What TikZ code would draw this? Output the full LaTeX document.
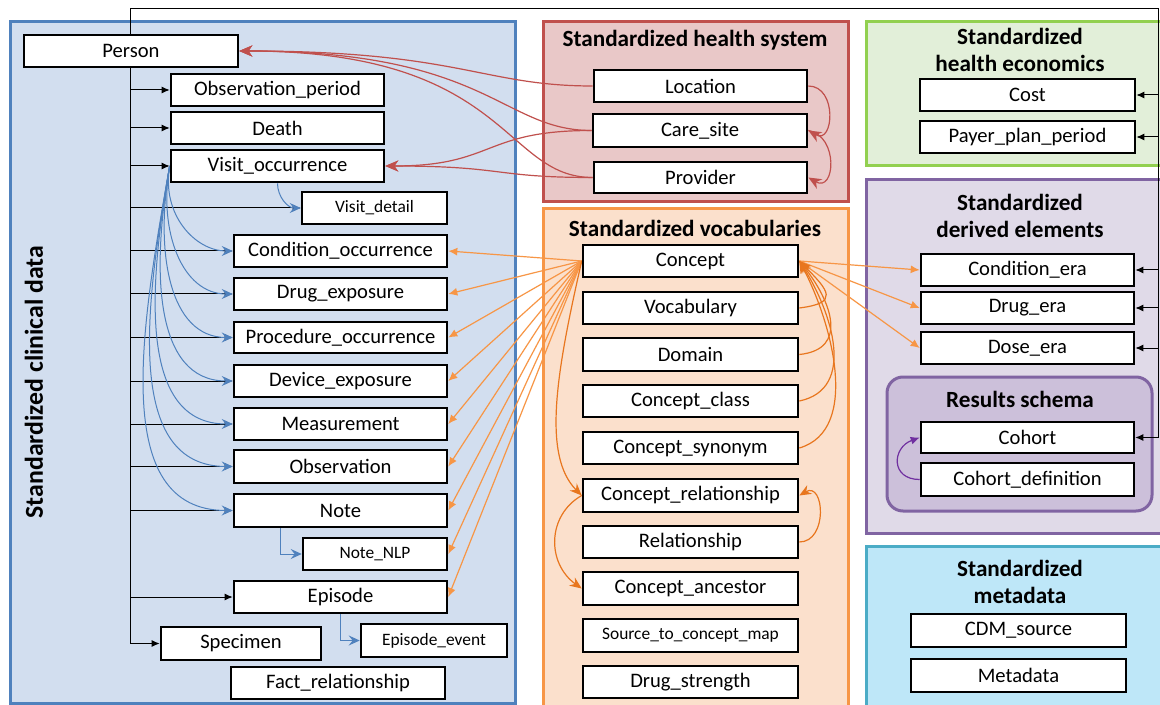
\documentclass[tikz,border=0pt]{standalone}
\usepackage{fontspec}
\setmainfont{Carlito}
\usetikzlibrary{arrows.meta,calc}
\pgfdeclarelayer{bg}\pgfdeclarelayer{conn}\pgfsetlayers{bg,conn,main}
\definecolor{cliF}{RGB}{210,222,239}
\definecolor{cliB}{RGB}{79,129,189}
\definecolor{hsF}{RGB}{233,200,200}
\definecolor{hsB}{RGB}{192,80,77}
\definecolor{vocF}{RGB}{251,224,204}
\definecolor{vocB}{RGB}{247,150,70}
\definecolor{heF}{RGB}{226,239,217}
\definecolor{heB}{RGB}{146,208,80}
\definecolor{deF}{RGB}{224,218,232}
\definecolor{deB}{RGB}{128,100,162}
\definecolor{rsF}{RGB}{204,192,218}
\definecolor{mdF}{RGB}{190,231,248}
\definecolor{mdB}{RGB}{75,172,198}
\definecolor{redC}{RGB}{192,80,77}
\definecolor{bluC}{RGB}{79,129,189}
\definecolor{orC}{RGB}{247,150,70}
\definecolor{orD}{RGB}{232,118,30}
\definecolor{purC}{RGB}{112,48,160}
\newcommand\tb[6][]{\node[tbox,#1,minimum width={(#4-#2)*0.5pt},minimum height={(#5-#3)*0.5pt}] (#6) at ({(#2+#4)/2},{(#3+#5)/2})}
\tikzset{
  tbox/.style={draw=black,line width=1.3pt,fill=white,inner sep=0pt,font=\fontsize{10.3}{12}\selectfont},
  small/.style={font=\fontsize{8.7}{10}\selectfont},
  panel/.style={line width=1.5pt},
  ttl/.style={font=\bfseries\fontsize{11.6}{13.5}\selectfont,align=center,inner sep=0pt},
  blkarr/.style={draw=black,line width=0.5pt,-{Latex[length=4pt,width=3.5pt]}},
  blk/.style={draw=black,line width=0.5pt},
  redarr/.style={draw=redC,line width=0.6pt,-{Stealth[length=6.5pt,width=5.5pt,inset=2pt]}},
  bluarr/.style={draw=bluC,line width=0.5pt,-{Stealth[length=5.5pt,width=5pt,inset=2pt]}},
  orarr/.style={draw=orC,line width=0.6pt,-{Latex[length=4.5pt,width=4pt]}},
  orcurve/.style={draw=orD,line width=0.6pt,-{Stealth[length=6pt,width=5pt,inset=2pt]}},
  purarr/.style={draw=purC,line width=0.6pt,-{Latex[length=4.5pt,width=4pt]}}
}
\begin{document}
\begin{tikzpicture}[x=0.5pt,y=-0.5pt]
\useasboundingbox (0,0) rectangle (1160,705);
\begin{pgfonlayer}{bg}
\fill[white] (0,0) rectangle (1160,705);
\begin{scope}
\clip (0,0) rectangle (1160,705);
\draw[panel,draw=cliB,fill=cliF] (10,22) rectangle (515,703);
\draw[panel,draw=hsB,fill=hsF] (543,22) rectangle (848,202);
\draw[panel,draw=vocB,fill=vocF] (543,209) rectangle (848,715);
\draw[panel,draw=heB,fill=heF] (866,22) rectangle (1175,166);
\draw[panel,draw=deB,fill=deF] (866,180) rectangle (1175,533);
\draw[panel,draw=deB,fill=rsF,rounded corners=8pt] (887,377) rectangle (1152,511);
\draw[panel,draw=mdB,fill=mdF] (866,546) rectangle (1175,715);
\end{scope}
\end{pgfonlayer}

% titles
\node[ttl,rotate=90,font=\bfseries\fontsize{12.9}{15}\selectfont] (tcli) at (34,382) {Standardized clinical data};
\node[ttl] (ths) at (695,40) {Standardized health system};
\node[ttl] (tvoc) at (695,228) {Standardized vocabularies};
\node[ttl] (the) at (1020,50) {Standardized\\health economics};
\node[ttl] (tde) at (1020,216) {Standardized\\derived elements};
\node[ttl] (trs) at (1020,399) {Results schema};
\node[ttl] (tmd) at (1020,582) {Standardized\\metadata};

% clinical tables
\tb{24}{35}{238}{67}{person} {Person};
\tb{171}{74}{384}{106}{obsper} {Observation\_period};
\tb{171}{112}{384}{144}{death} {Death};
\tb{171}{150}{384}{182}{visit} {Visit\_occurrence};
\tb[small]{302}{192}{447}{224}{visitdet} {Visit\_detail};
\tb{234}{235}{447}{267}{condocc} {Condition\_occurrence};
\tb{234}{278}{447}{310}{drugexp} {Drug\_exposure};
\tb{234}{322}{447}{353}{prococc} {Procedure\_occurrence};
\tb{234}{365}{447}{397}{devexp} {Device\_exposure};
\tb{234}{408}{447}{440}{meas} {Measurement};
\tb{234}{450}{447}{483}{obs} {Observation};
\tb{234}{494}{447}{527}{note} {Note};
\tb[small]{303}{538}{447}{570}{notenlp} {Note\_NLP};
\tb{234}{581}{447}{613}{episode} {Episode};
\tb[small]{361}{624}{507}{657}{epevent} {Episode\_event};
\tb{161}{627}{321}{660}{specimen} {Specimen};
\tb{231}{667}{445}{699}{factrel} {Fact\_relationship};

% health system
\tb{594}{70}{807}{102}{location} {Location};
\tb{593}{114}{807}{147}{caresite} {Care\_site};
\tb{594}{162}{807}{193}{provider} {Provider};

% vocabularies
\tb{583}{245}{798}{277}{concept} {Concept};
\tb{583}{292}{798}{324}{vocab} {Vocabulary};
\tb{583}{338}{798}{371}{domain} {Domain};
\tb{583}{385}{798}{417}{conclass} {Concept\_class};
\tb{583}{432}{798}{464}{consyn} {Concept\_synonym};
\tb{583}{479}{798}{512}{conrel} {Concept\_relationship};
\tb{583}{526}{798}{558}{relship} {Relationship};
\tb{583}{572}{798}{605}{conanc} {Concept\_ancestor};
\tb[small]{583}{619}{798}{652}{stcm} {Source\_to\_concept\_map};
\tb{583}{666}{798}{698}{drugstr} {Drug\_strength};

% health economics
\tb{920}{79}{1135}{111}{cost} {Cost};
\tb{920}{121}{1135}{153}{payer} {Payer\_plan\_period};

% derived
\tb{921}{254}{1134}{286}{condera} {Condition\_era};
\tb{921}{292}{1134}{324}{drugera} {Drug\_era};
\tb{921}{332}{1134}{364}{doseera} {Dose\_era};
\tb{921}{422}{1134}{453}{cohort} {Cohort};
\tb{921}{463}{1134}{496}{cohortdef} {Cohort\_definition};

% metadata
\tb{911}{614}{1126}{647}{cdmsrc} {CDM\_source};
\tb{911}{659}{1126}{692}{metadata} {Metadata};

\coordinate (trunkTop) at (130,9);
\coordinate (trunkBot) at (130,643);
\coordinate (rightTop) at (1158,9);
\coordinate (rightBot) at (1158,438);

\begin{pgfonlayer}{conn}
% black person links
\draw[blk] (trunkBot) -- (trunkTop) -- (rightTop) -- (rightBot);
\foreach \n in {obsper,death,visit,visitdet,condocc,drugexp,prococc,devexp,meas,obs,note,episode,specimen}
  \draw[blkarr] (trunkTop |- \n.west) -- (\n.west);
\foreach \n in {cost,payer,condera,drugera,doseera,cohort}
  \draw[blkarr] (rightTop |- \n.east) -- (\n.east);

% red
\draw[redarr] (location.west) .. controls +(-110,0) and +(220,0) .. (person.east);
\draw[redarr] (caresite.west) .. controls +(-90,0) and +(250,0) .. (person.east);
\draw[redarr] (provider.west) .. controls +(-90,0) and +(270,0) .. (person.east);
\draw[redarr] (caresite.west) .. controls +(-110,0) and +(110,0) .. (visit.east);
\draw[redarr] (provider.west) .. controls +(-100,0) and +(120,0) .. (visit.east);
\draw[redarr] (location.east) to[out=0,in=-30,looseness=1.7] (caresite.east);
\draw[redarr] (caresite.east) to[out=-10,in=-30,looseness=1.7] (provider.east);

% blue
\foreach \n in {condocc,drugexp,prococc,devexp,meas,obs,note}
  \draw[bluarr] (visit.west) to[out=260,in=180,out looseness=1.2,in looseness=0.9] (\n.west);
\draw[bluarr] (visit.south) to[out=-90,in=180] (visitdet.west);
\draw[bluarr] ($(note.south)+(-60,0)$) |- (notenlp.west);
\draw[bluarr] (episode.south) |- (epevent.west);

% orange
\foreach \n in {condocc,drugexp,prococc,devexp,meas,obs,note,notenlp,episode}
  \draw[orarr] (concept.west) -- (\n.east);
\foreach \n in {condera,drugera,doseera}
  \draw[orarr] (concept.east) -- (\n.west);
\draw[orcurve] (vocab.east) .. controls +(40,-5) and +(30,30) .. (concept.east);
\draw[orcurve] (domain.east) .. controls +(50,-5) and +(32,40) .. (concept.east);
\draw[orcurve] (conclass.east) .. controls +(58,-12) and +(32,50) .. (concept.east);
\draw[orcurve] (consyn.east) .. controls +(62,-18) and +(32,60) .. (concept.east);
\draw[orcurve] (concept.west) .. controls +(-25,110) and +(-40,-40) .. (conrel.west);
\draw[orcurve] (conrel.west) .. controls +(-35,20) and +(-35,-25) .. (conanc.west);
\draw[orcurve] (relship.east) to[out=0,in=30,looseness=1.6] (conrel.east);

% purple
\draw[purarr] (cohortdef.west) to[out=180,in=200,looseness=1.8] (cohort.west);
\end{pgfonlayer}
\end{tikzpicture}
\end{document}
